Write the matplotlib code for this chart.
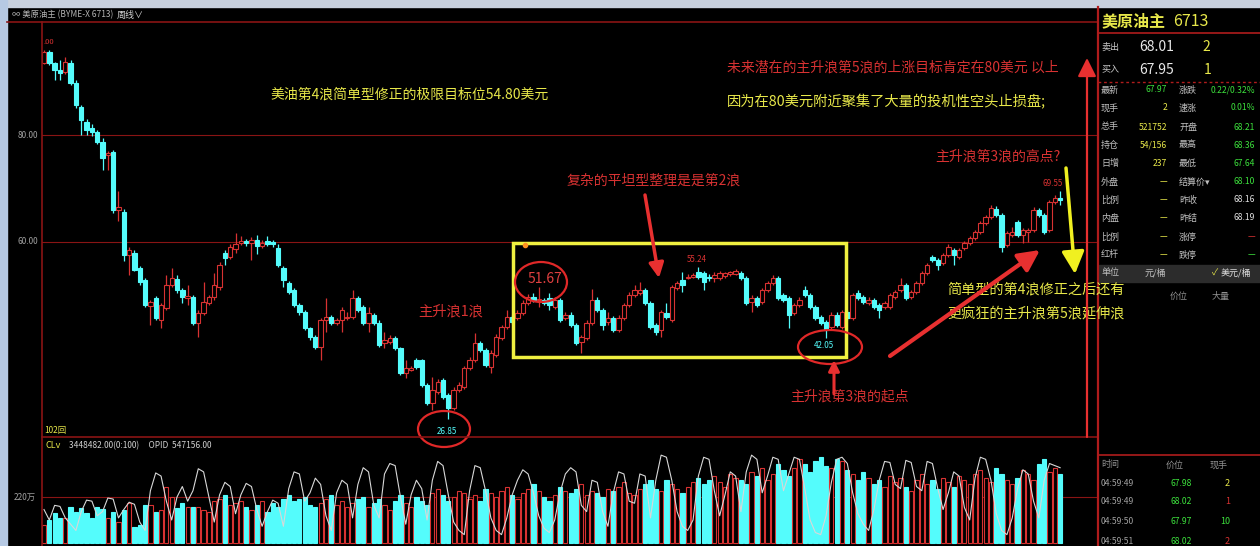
import numpy as np
import matplotlib
matplotlib.use("Agg")
import matplotlib.pyplot as plt
from matplotlib.patches import Rectangle, Ellipse

plt.rcParams['font.family'] = ['Noto Sans CJK SC', 'DejaVu Sans']

# weekly candles, US crude main contract
opens = [
    93.5, 95.5, 93.5, 92.1, 91.8, 93.5, 89.7, 85.2, 82.4, 81.3, 80.6, 78.7,
    76.3, 76.8, 66.0, 65.6, 57.5, 57.9, 55.1, 52.9, 48.0, 49.5, 45.4, 47.7,
    52.0, 53.1, 51.0, 49.5, 49.7, 44.9, 46.7, 48.6, 49.7, 51.6, 57.9, 57.2,
    58.7, 59.8, 60.2, 59.9, 60.4, 59.2, 60.1, 60.0, 58.9, 55.1, 52.3, 51.0,
    48.2, 46.9, 43.9, 42.2, 40.4, 45.4, 46.0, 44.9, 45.4, 45.8, 46.0, 49.5,
    47.9, 44.9, 46.4, 44.9, 41.1, 41.3, 42.1, 40.2, 35.5, 36.1, 37.9, 37.9,
    33.3, 29.9, 32.0, 34.2, 31.4, 29.0, 32.3, 32.9, 36.4, 37.9, 41.1, 39.8,
    36.6, 38.9, 42.1, 44.1, 46.0, 45.8, 46.7, 48.6, 49.7, 49.2, 49.2, 49.5,
    47.9, 49.2, 45.8, 46.4, 44.5, 41.3, 42.1, 44.9, 49.2, 47.3, 45.0, 45.8,
    43.6, 45.8, 48.2, 50.1, 50.4, 51.0, 48.6, 44.5, 43.6, 46.7, 45.4, 51.4,
    52.9, 53.3, 53.5, 54.4, 54.2, 53.5, 53.3, 53.3, 53.6, 54.0, 54.0, 54.2,
    53.3, 48.8, 49.5, 48.8, 51.0, 52.3, 53.3, 50.1, 49.5, 46.7, 48.2, 51.0,
    50.1, 47.9, 46.0, 45.0, 44.1, 46.4, 44.1, 46.9, 45.8, 50.5, 49.7, 48.6,
    49.2, 48.2, 47.9, 47.9, 49.7, 51.0, 52.0, 49.7, 50.7, 52.3, 54.2, 57.2,
    56.6, 56.1, 57.6, 58.5, 57.2, 58.9, 59.8, 60.7, 61.9, 63.6, 64.7, 66.2,
    65.0, 59.4, 61.3, 63.7, 61.3, 61.9, 62.2, 66.0, 65.0, 62.2, 67.5, 68.2]
closes = [
    95.5, 93.5, 92.1, 91.6, 93.7, 89.7, 85.6, 82.8, 80.9, 80.6, 78.7, 75.7,
    76.6, 66.0, 66.5, 57.6, 58.5, 54.8, 52.5, 48.2, 48.8, 45.8, 48.2, 52.0,
    53.3, 51.0, 49.7, 49.9, 44.9, 46.7, 48.8, 49.7, 52.0, 55.7, 57.0, 59.1,
    59.6, 60.2, 59.8, 60.4, 59.3, 59.9, 59.7, 59.6, 55.7, 52.9, 50.7, 48.2,
    46.9, 43.9, 42.2, 40.4, 45.4, 46.0, 44.9, 45.4, 47.3, 46.0, 49.5, 47.3,
    44.9, 46.7, 44.9, 40.7, 41.7, 42.1, 40.2, 35.5, 36.4, 36.4, 36.6, 33.3,
    29.9, 32.3, 33.9, 31.0, 29.0, 32.3, 33.3, 36.4, 37.9, 41.1, 39.8, 37.0,
    39.3, 42.2, 44.1, 46.0, 45.0, 46.7, 48.6, 49.7, 49.2, 49.3, 48.6, 48.2,
    49.2, 45.4, 46.4, 44.5, 41.1, 42.2, 44.9, 49.2, 47.3, 44.5, 45.8, 43.6,
    45.8, 48.2, 50.1, 51.0, 51.0, 48.6, 44.1, 43.2, 46.9, 46.0, 51.6, 52.3,
    52.0, 53.5, 53.8, 53.5, 52.5, 53.3, 53.8, 54.2, 54.2, 54.3, 54.6, 53.3,
    48.6, 49.5, 48.2, 51.0, 52.3, 53.3, 49.5, 49.2, 46.4, 48.2, 49.2, 50.1,
    47.9, 45.8, 44.9, 43.6, 46.4, 44.5, 46.9, 45.8, 50.1, 49.5, 48.8, 49.2,
    47.9, 47.3, 48.6, 50.1, 50.7, 52.0, 49.5, 50.7, 52.3, 54.2, 55.7, 56.6,
    55.7, 57.6, 59.1, 57.6, 58.5, 59.8, 60.7, 61.9, 63.6, 64.7, 66.4, 65.0,
    59.1, 61.7, 61.9, 61.3, 62.2, 62.2, 66.0, 65.0, 61.9, 67.5, 68.2, 67.9]
highs = [
    95.8, 95.9, 93.7, 94.0, 94.5, 94.0, 90.3, 85.6, 83.0, 82.0, 81.0, 79.5,
    77.0, 77.2, 69.5, 66.2, 59.0, 58.5, 55.5, 53.3, 49.2, 49.9, 48.6, 53.8,
    55.1, 53.8, 51.4, 52.0, 50.1, 47.3, 52.5, 50.1, 54.2, 56.3, 58.5, 59.6,
    61.6, 61.2, 60.6, 60.9, 61.3, 60.4, 61.2, 60.3, 59.6, 55.5, 52.7, 51.4,
    48.6, 47.3, 44.2, 42.6, 45.8, 49.5, 46.4, 45.8, 47.9, 47.0, 51.0, 49.9,
    48.2, 47.9, 46.7, 45.4, 43.2, 42.6, 42.4, 40.4, 37.9, 36.8, 38.3, 38.2,
    33.6, 34.8, 34.4, 34.6, 31.8, 32.9, 33.9, 36.8, 38.5, 43.0, 41.5, 40.2,
    39.8, 42.8, 44.5, 47.2, 46.4, 47.3, 49.2, 50.3, 50.5, 51.67, 49.5, 50.5,
    49.7, 49.5, 46.9, 46.9, 44.9, 42.6, 45.4, 51.2, 49.7, 47.7, 47.0, 46.2,
    46.4, 48.6, 50.7, 52.0, 52.5, 51.4, 49.0, 44.9, 47.3, 48.6, 52.0, 52.7,
    54.4, 54.0, 54.2, 55.24, 54.6, 54.0, 54.4, 54.6, 54.4, 54.6, 55.0, 54.6,
    53.6, 50.1, 49.9, 51.4, 52.7, 53.8, 53.7, 50.5, 49.9, 48.6, 49.7, 51.8,
    50.5, 48.2, 46.4, 45.4, 46.9, 46.9, 47.3, 47.3, 50.5, 51.0, 50.1, 49.7,
    49.5, 48.6, 49.0, 50.5, 51.1, 53.3, 52.4, 51.1, 52.7, 54.6, 56.1, 57.6,
    57.0, 58.0, 59.6, 58.9, 58.9, 60.2, 61.1, 62.3, 64.0, 65.1, 66.9, 66.7,
    65.4, 62.1, 62.8, 64.1, 62.6, 62.6, 66.6, 66.4, 65.4, 67.9, 68.8, 69.55]
lows = [
    93.2, 93.0, 90.3, 90.3, 91.4, 89.3, 85.0, 80.0, 80.0, 79.8, 78.3, 73.5,
    73.5, 65.5, 64.0, 56.5, 53.8, 54.5, 52.0, 47.9, 44.5, 45.4, 43.9, 47.3,
    51.6, 50.5, 48.6, 48.2, 44.5, 42.2, 46.4, 48.2, 49.2, 51.0, 55.7, 56.8,
    58.0, 59.4, 59.2, 56.6, 57.8, 58.8, 59.3, 59.1, 55.3, 51.5, 50.3, 47.9,
    46.4, 43.6, 41.7, 40.0, 37.9, 43.2, 44.5, 44.5, 43.2, 45.4, 45.6, 46.9,
    44.5, 43.2, 44.5, 40.4, 40.2, 40.9, 39.8, 35.1, 34.5, 35.8, 36.2, 32.9,
    29.5, 28.6, 31.6, 30.6, 26.85, 28.6, 31.9, 32.5, 36.0, 37.5, 39.4, 36.6,
    35.5, 38.5, 41.7, 43.7, 44.6, 45.4, 46.3, 48.2, 48.8, 47.9, 48.2, 47.3,
    47.5, 45.0, 45.4, 44.1, 40.7, 39.3, 41.7, 44.5, 46.9, 43.6, 44.5, 43.2,
    43.2, 45.4, 47.9, 49.7, 50.1, 48.2, 43.7, 42.6, 42.2, 45.6, 45.0, 51.0,
    50.7, 53.0, 53.3, 53.0, 51.0, 52.7, 52.5, 52.9, 53.3, 53.7, 53.8, 52.9,
    48.2, 47.0, 47.9, 48.4, 50.7, 52.0, 49.1, 48.8, 43.9, 46.3, 47.9, 49.7,
    47.5, 45.4, 44.5, 42.05, 43.7, 44.1, 43.7, 45.4, 45.4, 49.1, 48.4, 48.2,
    47.5, 45.8, 47.5, 47.5, 49.3, 50.7, 49.1, 49.3, 50.3, 51.9, 53.8, 56.2,
    54.8, 55.7, 57.2, 55.7, 56.8, 58.5, 59.4, 60.4, 61.5, 63.2, 64.3, 64.6,
    58.1, 59.0, 60.9, 60.9, 59.8, 60.0, 61.8, 64.6, 61.5, 61.8, 67.1, 66.9]

# volume (万手) and the white OPID line in the lower panel
volume = [
    86, 110, 143, 120, 120, 172, 148, 167, 143, 120, 172, 163, 120, 148, 100, 158, 191, 76, 86, 182,
    180, 148, 160, 270, 220, 167, 191, 170, 172, 170, 160, 150, 200, 210, 230, 180, 190, 200, 170, 160,
    180, 200, 150, 190, 170, 210, 230, 200, 210, 220, 180, 170, 190, 210, 230, 180, 200, 170, 190, 210,
    220, 170, 190, 210, 180, 160, 200, 230, 190, 170, 220, 200, 180, 240, 260, 230, 200, 220, 250, 240,
    210, 230, 200, 260, 240, 220, 250, 270, 230, 210, 240, 260, 280, 250, 220, 200, 230, 270, 250, 240,
    260, 280, 230, 250, 240, 220, 260, 250, 270, 290, 240, 230, 260, 280, 300, 260, 250, 300, 280, 260,
    240, 270, 290, 310, 280, 300, 320, 290, 270, 330, 310, 300, 280, 340, 320, 360, 300, 330, 380, 350,
    320, 360, 400, 380, 340, 390, 410, 370, 360, 400, 390, 350, 330, 300, 340, 310, 280, 300, 270, 320,
    290, 310, 270, 250, 300, 330, 280, 300, 260, 310, 290, 270, 320, 300, 280, 330, 350, 310, 290, 360,
    330, 300, 280, 310, 350, 330, 300, 380, 400, 340, 360, 330]
opid = [
    160, 110, 180, 175, 120, 90, 60, 150, 205, 200, 130, 150, 215, 210, 120, 160, 195, 185, 100, 60,
    250, 335, 320, 200, 110, 220, 270, 200, 250, 355, 340, 220, 100, 230, 290, 270, 140, 230, 285, 270,
    160, 80, 150, 205, 190, 80, 260, 340, 330, 200, 240, 310, 280, 130, 60, 240, 300, 280, 120, 280,
    360, 340, 180, 120, 330, 380, 370, 220, 90, 230, 300, 260, 110, 300, 390, 370, 230, 100, 60, 40,
    250, 370, 360, 250, 120, 60, 40, 120, 230, 300, 350, 330, 240, 130, 70, 50, 110, 240, 330, 360,
    340, 180, 150, 300, 290, 150, 80, 240, 340, 330, 200, 190, 330, 320, 120, 300, 420, 410, 300, 150,
    80, 60, 110, 320, 410, 400, 250, 130, 230, 340, 320, 150, 340, 420, 400, 240, 320, 410, 400, 250,
    330, 410, 400, 260, 110, 50, 40, 130, 290, 400, 410, 380, 240, 140, 90, 60, 160, 300, 390, 385,
    280, 260, 395, 385, 270, 250, 390, 380, 260, 160, 240, 340, 320, 170, 110, 310, 410, 400, 300, 140,
    60, 40, 120, 260, 350, 330, 200, 120, 300, 380, 370, 360]

price_ticks = [80, 60]

# quote panel texts
left_labels = ['最新', '现手', '总手', '持仓', '日增', '外盘', '比例', '内盘', '比例', '红杆']
left_vals = ['67.97', '2', '521752', '54/156', '237', '—', '—', '—', '—', '—']
right_labels = ['涨跌', '速涨', '开盘', '最高', '最低', '结算价▾', '昨收', '昨结', '涨停', '跌停']
right_vals = ['0.22/0.32%', '0.01%', '68.21', '68.36', '67.64', '68.10', '68.16', '68.19', '—', '—']
tick_times = ['04:59:49', '04:59:49', '04:59:50', '04:59:51']
tick_prices = ['67.98', '68.02', '67.97', '68.02']
tick_sizes = ['2', '1', '10', '2']

RED = '#d83232'
CYAN = '#54fcfc'
YEL = '#e8e84a'
GRN = '#3ce03c'
GRY = '#b4b4b4'
DRED = '#8a1414'

W, H = 1260, 546
fig = plt.figure(figsize=(12.6, 5.46), dpi=100, facecolor='black')

def rect(x0, y0, x1, y1):
    return [x0 / W, 1 - y1 / H, (x1 - x0) / W, (y1 - y0) / H]

o = np.array(opens); c = np.array(closes)
hi = np.array(highs); lo = np.array(lows)
idx = np.arange(len(o))
up = c >= o
face = np.where(up, 'black', CYAN)
edge = np.where(up, RED, CYAN)

# price panel
ax = fig.add_axes(rect(42, 22, 1097, 437))
ax.set_facecolor('black')
for y in price_ticks:
    ax.axhline(y, color=DRED, lw=0.8, zorder=0)
ax.vlines(idx, lo, hi, color=edge, lw=0.9, zorder=1)
ax.bar(idx, np.maximum(np.abs(c - o), 0.15), bottom=np.minimum(o, c), width=0.82,
       color=face, edgecolor=edge, lw=0.8, zorder=2)
ax.set_xlim(-0.376, 197.93)
ax.set_ylim(23.55, 101.12)
ax.axis('off')

# volume panel
av = fig.add_axes(rect(42, 437, 1097, 546))
av.set_facecolor('black')
av.axhline(220, color=DRED, lw=0.8, zorder=0)
av.bar(idx, volume, width=0.8, color=face, edgecolor=edge, lw=0.8, zorder=1)
av.plot(idx, opid, color='#d8d8d8', lw=0.8, zorder=3)
av.set_xlim(-0.376, 197.93)
av.set_ylim(-14.3, 506.7)
av.axis('off')

# overlay in pixel coordinates for frame, notes and quote panel
ov = fig.add_axes([0, 0, 1, 1], zorder=10)
ov.set_xlim(0, W)
ov.set_ylim(H, 0)
ov.axis('off')
ov.patch.set_alpha(0)

ov.add_patch(Rectangle((0, 0), W, 7, color='#c9d1de'))
ov.add_patch(Rectangle((0, 0), 7, H, color='#b6c9e3'))
ov.plot([7, 1097], [22, 22], color=DRED, lw=1.2)
ov.plot([42, 42], [22, H], color=DRED, lw=1.2)
ov.plot([42, 1097], [437, 437], color=DRED, lw=1.2)
ov.plot([1098, 1098], [7, H], color='#b01c1c', lw=1.6)
ov.text(12, 15, '∞ 美原油主 (BYME-X 6713)', color=GRY, fontsize=6, va='center')
ov.text(117, 15, '周线∨', color='#d0d0d0', fontsize=6.5, va='center')
for p, y in zip(price_ticks, [135, 242]):
    ov.text(38, y, f'{p:.2f}', color='#a0a0a0', fontsize=6, va='center', ha='right')
ov.text(36, 497, '220万', color='#a0a0a0', fontsize=6, va='center', ha='right')
ov.text(44, 430, '102回', color=YEL, fontsize=6, va='center')
ov.text(46, 446, 'CLv', color=YEL, fontsize=6.5, va='center')
ov.text(69, 446, '3448482.00(0:100)     OPID  547156.00', color='#d0d0d0', fontsize=6, va='center')

# annotations
ov.text(270, 95, '美油第4浪简单型修正的极限目标位54.80美元', color=YEL, fontsize=10, va='center')
ov.text(727, 68, '未来潜在的主升浪第5浪的上涨目标肯定在80美元 以上', color=RED, fontsize=10, va='center')
ov.text(727, 102, '因为在80美元附近聚集了大量的投机性空头止损盘;', color=YEL, fontsize=10.3, va='center')
ov.text(935, 157, '主升浪第3浪的高点?', color=RED, fontsize=10, va='center')
ov.text(567, 181, '复杂的平坦型整理是是第2浪', color=RED, fontsize=10, va='center')
ov.text(418, 311, '主升浪1浪', color=RED, fontsize=10.3, va='center')
ov.text(790, 397, '主升浪第3浪的起点', color=RED, fontsize=10, va='center')
ov.text(947, 289, '简单型的第4浪修正之后还有', color=YEL, fontsize=10.2, va='center')
ov.text(947, 313, '更疯狂的主升浪第5浪延伸浪', color=YEL, fontsize=10.2, va='center')

ov.add_patch(Rectangle((513, 243), 333, 114, fill=False, edgecolor='#f0f040', lw=2.5))
ov.plot([525], [245], marker='o', ms=3, color='#ff9020')
for cx, cy, w, h in [(541, 282, 52, 40), (444, 429, 52, 36), (830, 347, 64, 34)]:
    ov.add_patch(Ellipse((cx, cy), w, h, fill=False, edgecolor='#e02828', lw=1.6))
ov.text(545, 279, '51.67', color='#e04040', fontsize=10, ha='center', va='center')
ov.text(447, 431, '26.85', color=CYAN, fontsize=5.8, ha='center', va='center')
ov.text(824, 345, '42.05', color=CYAN, fontsize=5.8, ha='center', va='center')
ov.text(697, 260, '55.24', color=RED, fontsize=5.8, ha='center', va='center')
ov.text(1053, 184, '69.55', color=RED, fontsize=5.8, ha='center', va='center')
ov.text(43, 42, '.00', color=RED, fontsize=5.5, va='center')

def arrow(tail, tip, color, lw, scale):
    ov.annotate('', xy=tip, xytext=tail,
                arrowprops=dict(arrowstyle='-|>', color=color, lw=lw,
                                mutation_scale=scale, shrinkA=0, shrinkB=0))

arrow((645, 195), (659, 278), '#e83030', 2.5, 22)
arrow((834, 394), (834, 360), '#e83030', 2.2, 16)
arrow((890, 356), (1040, 250), '#e83030', 3.0, 32)
arrow((1066, 168), (1075, 274), '#f0f020', 2.5, 34)
arrow((1087, 437), (1087, 58), '#e83030', 1.6, 28)

# quote panel
ov.text(1101, 21, '美原油主', color=YEL, fontsize=11.5, va='center', fontweight='bold')
ov.text(1173, 21, '6713', color=YEL, fontsize=11.5, va='center')
ov.plot([1098, W], [33, 33], color='#b01c1c', lw=1.2)
ov.text(1101, 47, '卖出', color='#c8c8c8', fontsize=6.5, va='center')
ov.text(1139, 47, '68.01', color='#e8e8e8', fontsize=10, va='center')
ov.text(1202, 47, '2', color=YEL, fontsize=10, va='center')
ov.text(1101, 70, '买入', color='#c8c8c8', fontsize=6.5, va='center')
ov.text(1139, 70, '67.95', color='#e8e8e8', fontsize=10, va='center')
ov.text(1204, 70, '1', color=YEL, fontsize=10, va='center')
ov.plot([1098, W], [82, 82], color='#b01c1c', lw=1, ls=(0, (2, 2)))

row_y = [90, 108, 127, 145, 163, 182, 200, 218, 237, 255]
left_col = [GRN, YEL, YEL, YEL, YEL, YEL, YEL, YEL, YEL, YEL]
right_col = [GRN, GRN, GRN, GRN, GRN, GRN, '#e0e0e0', '#e0e0e0', RED, GRN]
for y, a, b, ca, d, e, ce in zip(row_y, left_labels, left_vals, left_col,
                                  right_labels, right_vals, right_col):
    ov.text(1101, y, a, color='#c0c0c0', fontsize=6.5, va='center')
    ov.text(1167, y, b, color=ca, fontsize=6.2, va='center', ha='right')
    ov.text(1179, y, d, color='#c0c0c0', fontsize=6.5, va='center')
    ov.text(1255, y, e, color=ce, fontsize=6.2, va='center', ha='right')

ov.add_patch(Rectangle((1099, 265), W - 1099, 17, color='#2c2c2c'))
ov.text(1101, 273, '单位', color='#c0c0c0', fontsize=6.5, va='center')
ov.text(1145, 273, '元/桶', color='#c0c0c0', fontsize=6.5, va='center')
ov.text(1212, 273, '✓', color=YEL, fontsize=6.5, va='center')
ov.text(1221, 273, '美元/桶', color='#e0e0e0', fontsize=6.5, va='center')
ov.text(1170, 296, '价位', color='#909090', fontsize=6.5, va='center')
ov.text(1212, 296, '大量', color='#909090', fontsize=6.5, va='center')

ov.plot([1098, W], [455, 455], color='#b01c1c', lw=1.2)
ov.text(1101, 465, '时间', color='#909090', fontsize=6.5, va='center')
ov.text(1166, 465, '价位', color='#909090', fontsize=6.5, va='center')
ov.text(1210, 465, '现手', color='#909090', fontsize=6.5, va='center')
size_col = [YEL, RED, GRN, RED]
for y, t, p, s, sc in zip([483, 502, 522, 541], tick_times, tick_prices, tick_sizes, size_col):
    ov.text(1101, y, t, color='#a0a0a0', fontsize=6.2, va='center')
    ov.text(1192, y, p, color=GRN, fontsize=6.2, va='center', ha='right')
    ov.text(1230, y, s, color=sc, fontsize=6.5, va='center', ha='right')

fig.savefig('out.png', dpi=100, facecolor='black')
